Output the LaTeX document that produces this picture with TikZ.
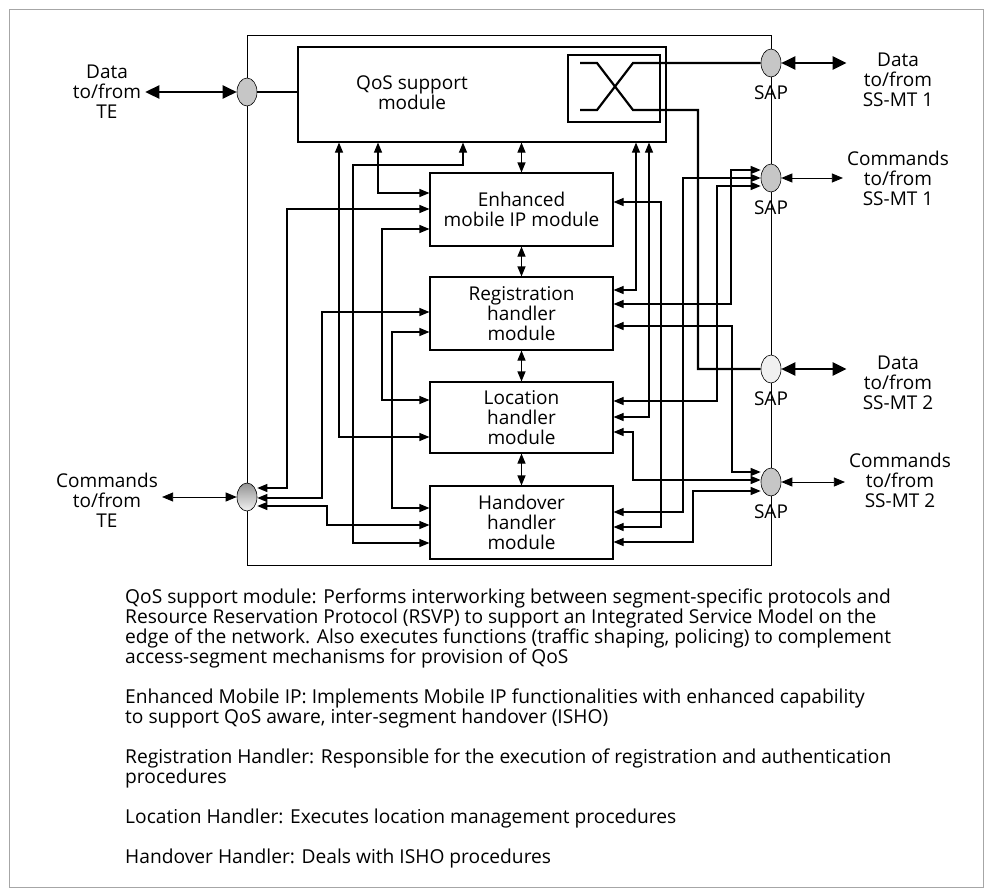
\documentclass[tikz,border=0pt]{standalone}
\usepackage{fontspec}
\setmainfont{Open Sans}
\usetikzlibrary{positioning,arrows.meta,shapes.geometric}

\begin{document}
\begin{tikzpicture}[
  x=1pt, y=-1pt,
  every node/.style={font=\fontsize{19}{20}\selectfont},
  box/.style={draw, line width=1.1pt, inner sep=0pt, align=center},
  sap/.style={draw, ellipse, line width=0.6pt, minimum width=20pt, minimum height=28pt, inner sep=0pt, fill=gray!45},
  lbl/.style={align=center, inner sep=4pt},
  link/.style={{Triangle[length=10pt,width=8pt]}-{Triangle[length=10pt,width=8pt]}, line width=1.1pt},
  cmdarrow/.style={{Triangle[length=11pt,width=9pt]}-{Triangle[length=11pt,width=9pt]}, line width=0.8pt},
  dataarrow/.style={{Triangle[length=14pt,width=13pt]}-{Triangle[length=14pt,width=13pt]}, line width=2.4pt},
  dataline/.style={line width=2.2pt}
]
\useasboundingbox (0,0) rectangle (987,892);
\draw[line width=0.6pt, gray!70] (9,9) rectangle (983,887);

\node[box, line width=0.8pt, minimum width=524pt, minimum height=530pt] (mt) at (509,300) {};
\node[sap] (sapte) at (247,92) {};
\node[sap, top color=gray!85, bottom color=gray!10] (sapct) at (247,497) {};
\node[sap] (sap1) at (771,63) {};
\node[sap] (sap2) at (771,178) {};
\node[sap, fill=gray!12] (sap3) at (771,369) {};
\node[sap] (sap4) at (771,482) {};
\node[below=5pt of sap1] (sapl1) {SAP};
\node[below=5pt of sap2] (sapl2) {SAP};
\node[below=5pt of sap3] (sapl3) {SAP};
\node[below=5pt of sap4] (sapl4) {SAP};

\node[box, minimum width=368pt, minimum height=95pt] (qos) at (482,94.5) {};
\node[lbl] (qoslbl) at (412,93) {QoS support\\module};
\node[box, minimum width=92pt, minimum height=67pt] (sw) at (614,88.5) {};
\node[box, minimum width=183pt, minimum height=73pt] (enh) at (521.5,209.5) {Enhanced\\mobile IP module};
\node[box, minimum width=183pt, minimum height=73pt] (reg) at (521.5,313.5) {Registration\\handler\\module};
\node[box, minimum width=183pt, minimum height=71pt] (loc) at (521.5,417.5) {Location\\handler\\module};
\node[box, minimum width=183pt, minimum height=73pt] (hand) at (521.5,522.5) {Handover\\handler\\module};

\node[lbl] (dte) at (107,92) {Data\\to/from\\TE};
\node[lbl] (cte) at (107,500) {Commands\\to/from\\TE};
\node[lbl] (dmt1) at (898,80) {Data\\to/from\\SS-MT 1};
\node[lbl] (cmt1) at (898,178) {Commands\\to/from\\SS-MT 1};
\node[lbl] (dmt2) at (898,383) {Data\\to/from\\SS-MT 2};
\node[lbl] (cmt2) at (900,480) {Commands\\to/from\\SS-MT 2};

\coordinate (swa) at (580,63);
\coordinate (swb) at (580,110);
\draw[dataline] (swa) -- ++(17,0) -- (633,110) -- (698,110) |- (sap3.west);
\draw[dataline] (swb) -- ++(17,0) -- (633,63) -- (sap1.west);
\draw[dataline] (sapte.east) -- (sapte.east -| qos.west);

\draw[dataarrow] (dte.east) -- (sapte.west);
\draw[cmdarrow] (cte.east |- sapct) -- (sapct.west);
\draw[dataarrow, shorten >=12pt] (sap1.east) -- (sap1 -| dmt1.west);
\draw[cmdarrow] (sap2.east) -- (sap2 -| cmt1.west);
\draw[dataarrow, shorten >=12pt] (sap3.east) -- (sap3 -| dmt2.west);
\draw[cmdarrow] (sap4.east) -- (sap4 -| cmt2.west);

\draw[link] (enh.north |- qos.south) -- (enh.north);
\draw[link] (enh) -- (reg);
\draw[link] (reg) -- (loc);
\draw[link] (loc) -- (hand);

\draw[link] (qos.south -| 339,0) |- (loc.west |- 0,437);
\draw[link] (qos.south -| 378,0) |- (enh.west |- 0,193);
\draw[link] (qos.south -| 463,0) |- (353,165) |- (hand.west |- 0,543);
\draw[link] (enh.west |- 0,209) -| (287,488) -- (sapct.east |- 0,488);
\draw[link] (enh.west |- 0,229) -| (382,400) -- (loc.west |- 0,400);
\draw[link] (reg.west |- 0,312) -| (322,498) -- (sapct.east |- 0,498);
\draw[link] (reg.west |- 0,332) -| (392,508) -- (hand.west |- 0,508);
\draw[link] (sapct.east |- 0,506) -| (327,525) -- (hand.west |- 0,525);

\draw[link] (qos.south -| 636,0) |- (reg.east |- 0,290);
\draw[link] (qos.south -| 649,0) |- (loc.east |- 0,417);
\draw[link] (enh.east |- 0,202) -| (661,527) -- (hand.east |- 0,527);
\draw[link] (sap2.west |- 0,170) -| (731,304) -- (reg.east |- 0,304);
\draw[link] (sap2.west |- 0,178) -| (683,512) -- (hand.east |- 0,512);
\draw[link] (sap2.west |- 0,186) -| (717,401) -- (loc.east |- 0,401);
\draw[link] (reg.east |- 0,326) -| (732,472) -- (sap4.west |- 0,472);
\draw[link] (loc.east |- 0,432) -| (633,480) -- (sap4.west |- 0,480);
\draw[link] (hand.east |- 0,542) -| (693,491) -- (sap4.west |- 0,491);

\node[anchor=north west, inner sep=0pt, align=left, font=\fontsize{19.2}{20}\selectfont] (desc) at (125,589) {QoS support module: Performs interworking between segment-specific protocols and\\
Resource Reservation Protocol (RSVP) to support an Integrated Service Model on the\\
edge of the network. Also executes functions (traffic shaping, policing) to complement\\
access-segment mechanisms for provision of QoS\\[20pt]
Enhanced Mobile IP: Implements Mobile IP functionalities with enhanced capability\\
to support QoS aware, inter-segment handover (ISHO)\\[20pt]
Registration Handler: Responsible for the execution of registration and authentication\\
procedures\\[20pt]
Location Handler: Executes location management procedures\\[20pt]
Handover Handler: Deals with ISHO procedures};
\end{tikzpicture}
\end{document}
